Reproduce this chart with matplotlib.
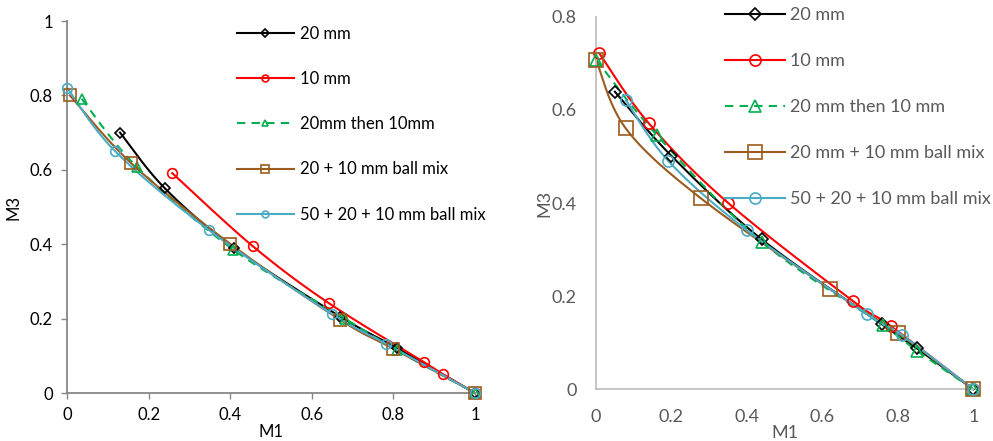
import numpy as np
import matplotlib
matplotlib.use("Agg")
import matplotlib.pyplot as plt
from matplotlib.lines import Line2D

plt.rcParams['font.family'] = ['Lato', 'DejaVu Sans']

# ---------------- data: left chart ----------------
L_labels = ["20 mm", "10 mm", "20mm then 10mm", "20 + 10 mm ball mix", "50 + 20 + 10 mm ball mix"]
L_20_x = [0.13, 0.24, 0.41, 0.67, 0.81, 1.0]
L_20_y = [0.70, 0.55, 0.39, 0.205, 0.12, 0.0]
L_10_x = [0.258, 0.455, 0.641, 0.875, 0.922, 1.0]
L_10_y = [0.591, 0.395, 0.242, 0.083, 0.050, 0.0]
L_2010_x = [0.036, 0.171, 0.408, 0.681, 0.808, 1.0]
L_2010_y = [0.791, 0.608, 0.385, 0.200, 0.115, 0.0]
L_mix2_x = [0.007, 0.158, 0.400, 0.669, 0.800, 1.0]
L_mix2_y = [0.800, 0.617, 0.401, 0.197, 0.119, 0.0]
L_mix3_x = [0.0, 0.118, 0.349, 0.649, 0.781, 1.0]
L_mix3_y = [0.821, 0.650, 0.437, 0.213, 0.133, 0.0]

# ---------------- data: right chart ----------------
R_labels = ["20 mm", "10 mm", "20 mm then 10 mm", "20 mm + 10 mm ball mix", "50 + 20 + 10 mm ball mix"]
R_20_x = [0.050, 0.200, 0.439, 0.757, 0.850, 1.0]
R_20_y = [0.639, 0.501, 0.322, 0.140, 0.088, 0.0]
R_10_x = [0.009, 0.140, 0.349, 0.680, 0.781, 1.0]
R_10_y = [0.721, 0.571, 0.401, 0.190, 0.136, 0.0]
R_2010_x = [0.0, 0.161, 0.439, 0.760, 0.850, 1.0]
R_2010_y = [0.708, 0.546, 0.317, 0.138, 0.083, 0.0]
R_mix2_x = [0.0, 0.079, 0.278, 0.620, 0.801, 1.0]
R_mix2_y = [0.708, 0.560, 0.410, 0.215, 0.120, 0.0]
R_mix3_x = [0.079, 0.192, 0.399, 0.719, 0.810, 1.0]
R_mix3_y = [0.621, 0.490, 0.342, 0.161, 0.117, 0.0]

colors = ["#000000", "#FF0000", "#00B050", "#9C5B1E", "#4BACC6"]
markers = ["D", "o", "^", "s", "o"]
styles = ["-", "-", (0, (4, 3)), "-", "-"]


def smooth(x, y, n=30):
    """Excel-like smoothed line (Catmull-Rom Bezier)."""
    p = np.column_stack([x, y]).astype(float)
    m = len(p)
    out = [p[0]]
    t = np.linspace(0, 1, n)[1:, None]
    for i in range(m - 1):
        p0 = p[i - 1] if i > 0 else p[i]
        p1, p2 = p[i], p[i + 1]
        p3 = p[i + 2] if i + 2 < m else p[i + 1]
        c1 = p1 + (p2 - p0) / 6.0
        c2 = p2 - (p3 - p1) / 6.0
        b = ((1 - t) ** 3) * p1 + 3 * ((1 - t) ** 2) * t * c1 + 3 * (1 - t) * t ** 2 * c2 + t ** 3 * p2
        out.extend(b)
    out = np.array(out)
    return out[:, 0], out[:, 1]


fig = plt.figure(figsize=(9.93, 4.41), dpi=100)

# ---------------- left axes ----------------
axL = fig.add_axes([67 / 993, 1 - 393 / 441, 408 / 993, 372 / 441])
L_series = [(L_20_x, L_20_y), (L_10_x, L_10_y), (L_2010_x, L_2010_y), (L_mix2_x, L_mix2_y), (L_mix3_x, L_mix3_y)]
L_ms = [5.5, 7.0, 7.0, 8.0, 7.0]
handles = []
for (x, y), c, mk, ls, ms, lab in zip(L_series, colors, markers, styles, L_ms, L_labels):
    sx, sy = smooth(x, y)
    axL.plot(sx, sy, color=c, lw=1.5, ls=ls, clip_on=False, zorder=2)
    axL.plot(x, y, ls='none', marker=mk, ms=ms, mfc='none', mec=c, mew=1.2, clip_on=False, zorder=3)
    handles.append(Line2D([], [], color=c, lw=1.5, ls=ls, marker=mk, ms=ms * 0.7, mfc='none', mec=c, mew=1.2))
axL.set_xlim(0, 1)
axL.set_ylim(0, 1)
axL.set_xticks([0, 0.2, 0.4, 0.6, 0.8, 1])
axL.set_xticklabels(["0", "0.2", "0.4", "0.6", "0.8", "1"])
axL.set_yticks([0, 0.2, 0.4, 0.6, 0.8, 1])
axL.set_yticklabels(["0", "0.2", "0.4", "0.6", "0.8", "1"])
for s in ['top', 'right']:
    axL.spines[s].set_visible(False)
for s in ['left', 'bottom']:
    axL.spines[s].set_color('#878787')
    axL.spines[s].set_linewidth(1.3)
axL.tick_params(axis='both', direction='out', length=4, width=1, color='#878787', labelsize=12, labelcolor='#000000', pad=6)
axL.set_xlabel("M1", fontsize=12, labelpad=1)
axL.set_ylabel("M3", fontsize=12, labelpad=6)
legL = axL.legend(handles, L_labels, loc='upper left', bbox_to_anchor=(237 / 993, 1 - 26 / 441),
                  bbox_transform=fig.transFigure, frameon=False, fontsize=12, handlelength=3.4,
                  handletextpad=0.35, labelspacing=1.75, borderpad=0, borderaxespad=0)

# ---------------- right axes ----------------
axR = fig.add_axes([596 / 993, 1 - 389.3 / 441, 377.3 / 993, 372.6 / 441])
R_series = [(R_20_x, R_20_y), (R_10_x, R_10_y), (R_2010_x, R_2010_y), (R_mix2_x, R_mix2_y), (R_mix3_x, R_mix3_y)]
R_ms = [6.0, 8.0, 8.0, 9.5, 8.0]
handles = []
for (x, y), c, mk, ls, ms, lab in zip(R_series, colors, markers, styles, R_ms, R_labels):
    sx, sy = smooth(x, y)
    axR.plot(sx, sy, color=c, lw=1.5, ls=ls, clip_on=False, zorder=2)
    axR.plot(x, y, ls='none', marker=mk, ms=ms, mfc='none', mec=c, mew=1.2, clip_on=False, zorder=3)
    handles.append(Line2D([], [], color=c, lw=1.5, ls=ls, marker=mk, ms=ms, mfc='none', mec=c, mew=1.2))
axR.set_xlim(0, 1)
axR.set_ylim(0, 0.8)
axR.set_xticks([0, 0.2, 0.4, 0.6, 0.8, 1])
axR.set_xticklabels(["0", "0.2", "0.4", "0.6", "0.8", "1"])
axR.set_yticks([0, 0.2, 0.4, 0.6, 0.8])
axR.set_yticklabels(["0", "0.2", "0.4", "0.6", "0.8"])
for s in ['top', 'right']:
    axR.spines[s].set_visible(False)
for s in ['left', 'bottom']:
    axR.spines[s].set_color('#BFBFBF')
    axR.spines[s].set_linewidth(1.3)
axR.tick_params(axis='both', length=0, labelsize=13, labelcolor='#595959', pad=14)
axR.set_xlabel("M1", fontsize=13, color='#595959', labelpad=0)
axR.set_ylabel("M3", fontsize=13, color='#595959', labelpad=-1)
legR = axR.legend(handles, R_labels, loc='upper left', bbox_to_anchor=(725 / 993, 1 - 7 / 441),
                  bbox_transform=fig.transFigure, frameon=False, fontsize=13, handlelength=3.3,
                  handletextpad=0.3, labelspacing=1.66, borderpad=0, borderaxespad=0)
for t in legR.get_texts():
    t.set_color('#595959')

fig.savefig("out.png", dpi=100)
